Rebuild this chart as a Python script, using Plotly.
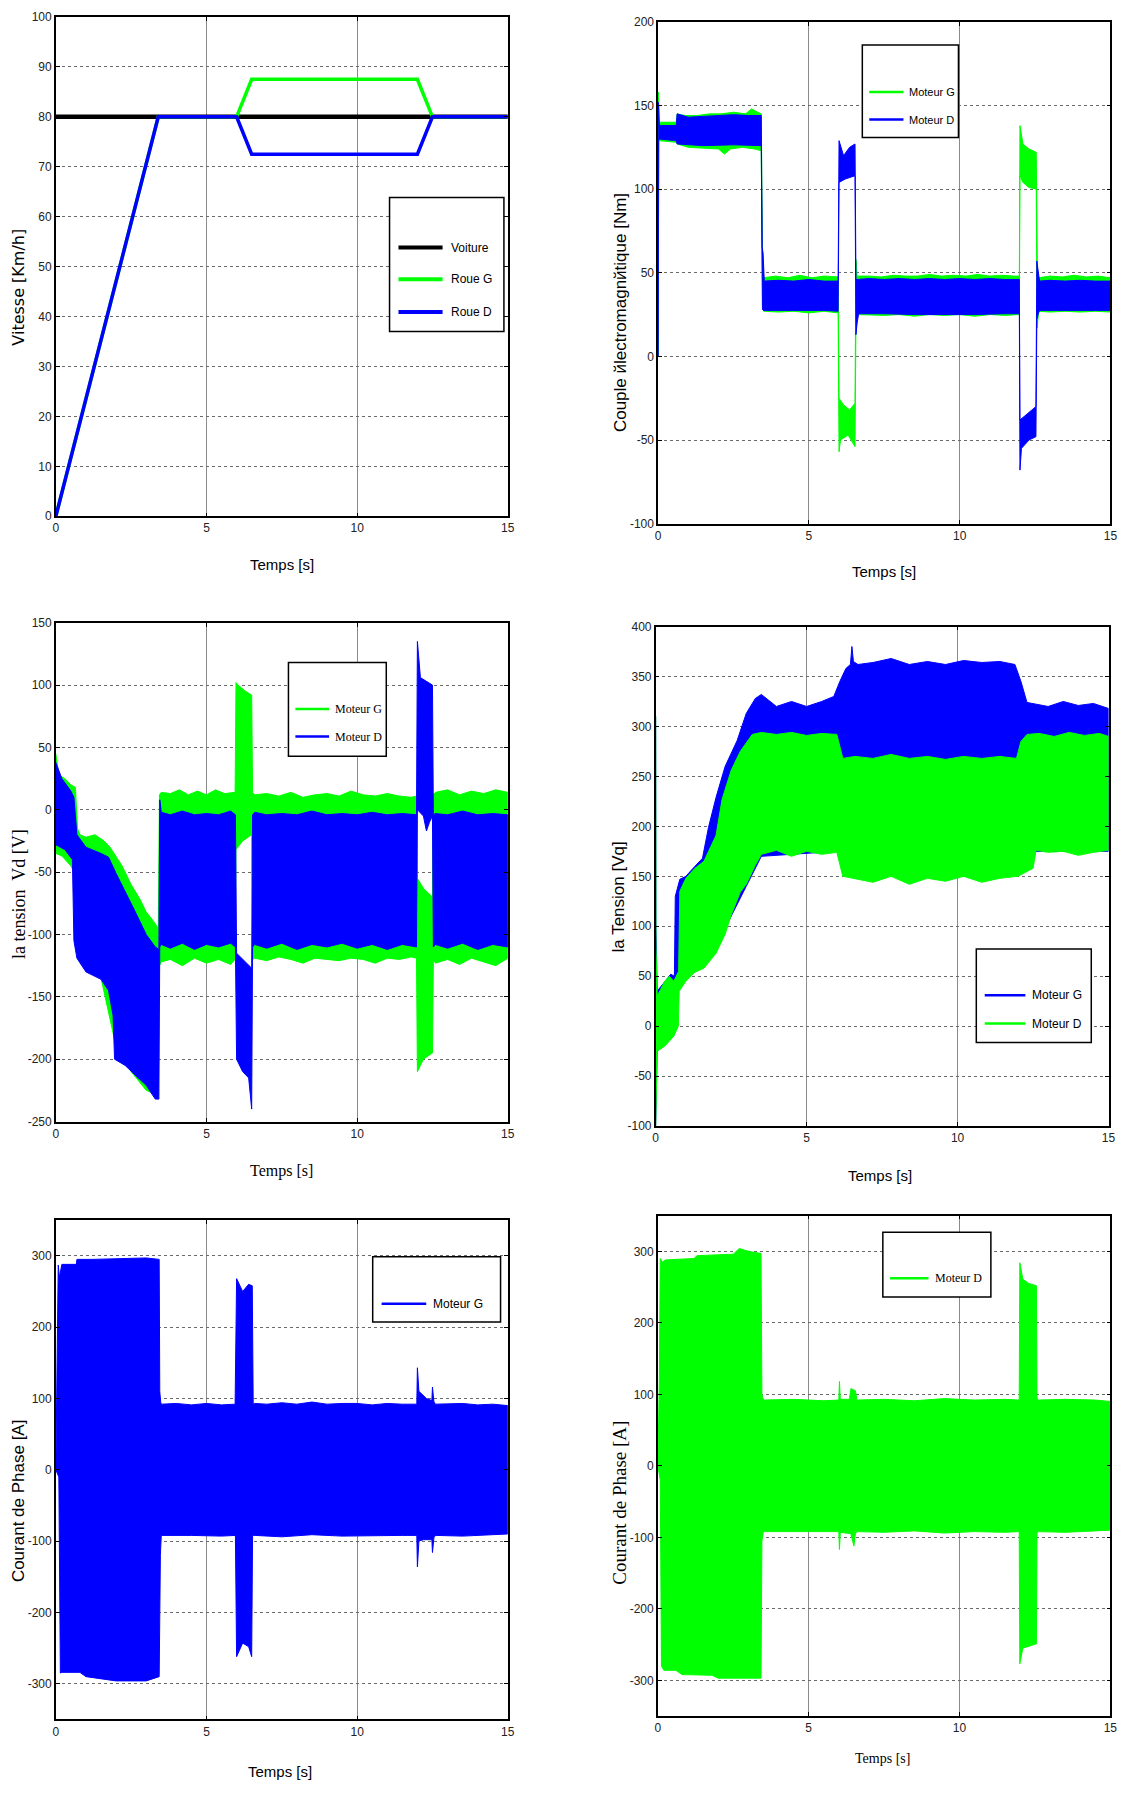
import plotly.graph_objects as go

W, H = 1129, 1793
BLUE = "#0000FF"
GREEN = "#00FF00"
SANS = "Liberation Sans, Arial, sans-serif"
SERIF = "Liberation Serif, Times New Roman, serif"

# ---------------- Data ----------------
# Subplot 1: Vitesse
v_t = [0, 3.4, 6.0, 6.5, 12.0, 12.5, 15]
voiture_t = [0, 15]
voiture_v = [80, 80]
roueG_v = [0, 80, 80, 87.5, 87.5, 80, 80]
roueD_v = [0, 80, 80, 72.5, 72.5, 80, 80]

# Subplot 2: Couple electromagnetique (envelopes)
cG_up_t = [0, 0.01, 0.04, 0.6, 0.63, 0.9, 1.3, 1.7, 2.1, 2.5, 2.9, 3.1, 3.3, 3.42, 3.46, 3.5, 3.9, 4.3, 4.7, 5.1, 5.5, 5.97, 6.0, 6.15, 6.35, 6.53, 6.56, 6.6, 7.0, 7.4, 7.8, 8.2, 8.6, 9.0, 9.4, 9.8, 10.2, 10.6, 11.0, 11.4, 11.8, 11.98, 12.0, 12.1, 12.3, 12.5, 12.54, 12.58, 12.62, 13.0, 13.4, 13.8, 14.2, 14.6, 15]
cG_up_v = [0, 158, 140, 140, 145, 144, 144, 145, 145, 146, 145, 148, 146, 145, 60, 47, 48, 47, 48.5, 47, 48, 47.5, -25, -29, -32, -28, 58, 48, 48, 47.5, 48.5, 48, 48, 49, 48, 48.5, 48, 49, 48, 48.5, 48, 48, 138, 127, 124, 122, 122, 47, 47, 48, 47.5, 48.5, 47.5, 48, 47]
cG_lo_t = [0, 0.02, 0.6, 0.63, 1.0, 1.5, 2.0, 2.2, 2.4, 2.8, 3.2, 3.42, 3.46, 3.5, 4.0, 4.5, 5.0, 5.5, 5.97, 6.0, 6.05, 6.3, 6.53, 6.56, 6.6, 7.0, 7.5, 8.0, 8.5, 9.0, 9.5, 10.0, 10.5, 11.0, 11.5, 11.98, 12.0, 12.1, 12.3, 12.54, 12.57, 12.62, 13.0, 13.5, 14.0, 14.5, 15]
cG_lo_v = [0, 129, 128, 127, 125, 124.5, 124, 121, 124, 125, 124, 123, 30, 27, 26.5, 27, 26, 27, 26, -57, -50, -47, -54, 20, 25, 25, 24.5, 25, 24, 25, 24.5, 25, 24, 25, 24.5, 25, 108, 104, 101, 100, 17, 27, 26.5, 27, 26.5, 27, 26.5]
cD_up_t = [0, 0.01, 0.04, 0.6, 0.63, 1.0, 1.5, 2.0, 2.5, 3.0, 3.42, 3.45, 3.48, 3.52, 4.0, 4.5, 5.0, 5.5, 5.97, 6.0, 6.15, 6.35, 6.53, 6.56, 6.6, 7.0, 7.5, 8.0, 8.5, 9.0, 9.5, 10.0, 10.5, 11.0, 11.5, 11.98, 12.0, 12.2, 12.4, 12.53, 12.56, 12.6, 12.65, 13.0, 13.5, 14.0, 14.5, 15]
cD_up_v = [0, 152, 138, 138, 145, 143, 143.5, 144, 144.5, 144, 144, 65, 62, 45, 45.5, 45, 46, 45, 45, 129, 120, 125, 127, 46, 46, 46.5, 46, 46.5, 46, 46.5, 46, 46.5, 46, 46.5, 46, 46, -38, -35, -32, -30, 57, 50, 45, 45.5, 45, 45.5, 45, 45]
cD_lo_t = [0, 0.02, 0.6, 0.63, 1.5, 2.5, 3.42, 3.46, 3.5, 4.5, 5.5, 5.97, 6.0, 6.2, 6.53, 6.56, 6.6, 6.65, 7.5, 8.5, 9.5, 10.5, 11.5, 11.98, 12.0, 12.05, 12.3, 12.53, 12.56, 12.6, 12.65, 13.5, 14.5, 15]
cD_lo_v = [0, 130, 129, 127, 126, 126.5, 126, 28, 27.5, 27.5, 27.5, 27, 104, 106, 108, 13, 20, 25.5, 25.5, 25, 25, 25, 25.5, 25.5, -68, -55, -50, -48, 22, 25, 27.5, 27.5, 27.5, 27.5]

# Subplot 3: Vd
vdG_up_t = [0, 0.1, 0.3, 0.5, 0.65, 0.72, 0.8, 1.0, 1.3, 1.6, 1.8, 2.0, 2.2, 2.5, 2.8, 3.0, 3.2, 3.4, 3.44, 3.5, 3.8, 4.1, 4.4, 4.7, 5.0, 5.3, 5.6, 5.95, 5.98, 6.05, 6.3, 6.5, 6.53, 6.6, 7.0, 7.4, 7.8, 8.2, 8.6, 9.0, 9.4, 9.8, 10.2, 10.6, 11.0, 11.4, 11.8, 11.97, 12.0, 12.2, 12.5, 12.53, 12.6, 13.0, 13.4, 13.8, 14.2, 14.6, 15]
vdG_up_v = [45, 28, 25, 20, 18, -15, -20, -22, -20, -25, -30, -38, -45, -60, -72, -82, -88, -95, 12, 14, 13, 16, 12, 15, 12, 16, 13, 14, 102, 100, 95, 92, 14, 12, 13, 11, 14, 10, 12, 13, 11, 15, 12, 11, 13, 11, 10, 11, -55, -63, -70, 12, 14, 16, 12, 15, 13, 16, 14]
vdG_lo_t = [0, 0.2, 0.5, 0.6, 1.0, 1.5, 2.0, 2.5, 3.0, 3.3, 3.44, 3.5, 3.8, 4.2, 4.6, 5.0, 5.4, 5.8, 5.95, 5.98, 6.2, 6.5, 6.53, 6.6, 7.0, 7.4, 7.8, 8.2, 8.6, 9.0, 9.4, 9.8, 10.2, 10.6, 11.0, 11.4, 11.8, 11.97, 12.0, 12.2, 12.5, 12.53, 12.6, 13.0, 13.4, 13.8, 14.2, 14.6, 15]
vdG_lo_v = [-35, -37, -45, -50, -120, -135, -190, -210, -225, -228, -125, -122, -120, -125, -119, -123, -120, -124, -120, -32, -25, -20, -120, -119, -121, -118, -120, -123, -119, -120, -121, -119, -120, -123, -119, -120, -118, -119, -210, -200, -195, -120, -123, -120, -124, -119, -122, -125, -119]
vdD_up_t = [0, 0.2, 0.5, 0.6, 0.7, 1.0, 1.5, 1.75, 2.0, 2.3, 2.6, 3.0, 3.3, 3.42, 3.45, 3.5, 3.8, 4.2, 4.6, 5.0, 5.4, 5.8, 5.96, 6.0, 6.2, 6.5, 6.53, 6.6, 7.0, 7.5, 8.0, 8.5, 9.0, 9.5, 10.0, 10.5, 11.0, 11.5, 11.97, 12.0, 12.1, 12.3, 12.5, 12.53, 12.6, 13.0, 13.5, 14.0, 14.5, 15]
vdD_up_v = [38, 25, 15, 10, -20, -30, -35, -38, -51, -65, -80, -100, -110, -112, 8, -2, -4, -1, -4, -3, -4, -1, -4, -115, -120, -127, -4, -2, -4, -3, -4, -1, -4, -3, -4, -2, -4, -3, -4, 135, 106, 103, 100, -4, -3, -4, -1, -4, -3, -4]
vdD_lo_t = [0, 0.3, 0.55, 0.6, 0.7, 1.0, 1.5, 1.75, 1.9, 1.95, 2.3, 2.6, 3.0, 3.3, 3.42, 3.45, 3.5, 3.8, 4.2, 4.6, 5.0, 5.4, 5.8, 5.96, 6.0, 6.2, 6.4, 6.5, 6.53, 6.6, 7.0, 7.5, 8.0, 8.5, 9.0, 9.5, 10.0, 10.5, 11.0, 11.5, 11.97, 12.0, 12.2, 12.3, 12.4, 12.5, 12.53, 12.6, 13.0, 13.5, 14.0, 14.5, 15]
vdD_lo_v = [-28, -32, -40, -105, -119, -130, -136, -145, -165, -200, -205, -212, -221, -232, -232, -110, -108, -111, -107, -112, -108, -110, -107, -110, -200, -210, -215, -240, -110, -108, -111, -107, -112, -108, -110, -107, -111, -108, -112, -108, -110, 0, -5, -17, -10, -5, -110, -108, -111, -107, -112, -108, -110]

# Subplot 4: Vq
vqG_up_t = [0, 0.01, 0.05, 0.3, 0.5, 0.62, 0.65, 0.8, 1.0, 1.3, 1.55, 1.75, 2.0, 2.3, 2.7, 3.0, 3.3, 3.5, 4.0, 4.5, 5.0, 5.5, 5.9, 6.1, 6.3, 6.45, 6.5, 6.55, 6.7, 7.2, 7.8, 8.4, 9.0, 9.6, 10.2, 10.8, 11.4, 11.9, 12.1, 12.3, 12.6, 13.0, 13.5, 14.0, 14.5, 15]
vqG_up_v = [310, 100, 35, 45, 52, 50, 130, 147, 150, 160, 168, 199, 229, 260, 286, 313, 328, 332, 320, 325, 320, 325, 330, 345, 358, 362, 380, 365, 362, 364, 368, 362, 365, 362, 366, 364, 365, 362, 345, 324, 322, 320, 325, 321, 323, 318]
vqG_lo_t = [0, 0.05, 0.6, 0.65, 1.0, 1.6, 2.0, 3.0, 3.5, 6.0, 6.2, 12.0, 12.3, 15]
vqG_lo_v = [-100, -25, -10, 40, 50, 60, 80, 140, 170, 175, 255, 255, 175, 175]
vqD_up_t = [0, 0.01, 0.05, 0.3, 0.45, 0.6, 0.76, 0.8, 1.0, 1.3, 1.6, 2.0, 2.2, 2.5, 2.8, 3.2, 3.5, 4.0, 4.5, 5.0, 5.5, 6.0, 6.2, 6.6, 7.2, 7.8, 8.4, 9.0, 9.6, 10.2, 10.8, 11.4, 11.95, 12.1, 12.3, 12.7, 13.2, 13.7, 14.2, 14.7, 15]
vqD_up_v = [310, 80, 30, 45, 50, 45, 55, 135, 148, 158, 165, 191, 227, 256, 275, 292, 294, 292, 294, 291, 293, 292, 268, 270, 268, 272, 268, 270, 267, 270, 268, 270, 268, 285, 292, 293, 290, 294, 291, 293, 290]
vqD_lo_t = [0, 0.05, 0.3, 0.6, 0.75, 0.78, 1.0, 1.3, 1.6, 2.0, 2.3, 2.5, 2.8, 3.0, 3.3, 3.5, 4.0, 4.5, 5.0, 5.5, 6.0, 6.2, 6.6, 7.2, 7.8, 8.4, 9.0, 9.6, 10.2, 10.8, 11.4, 12.0, 12.5, 12.6, 13.0, 13.5, 14.0, 14.5, 15]
vqD_lo_v = [-100, -25, -20, -10, 0, 35, 45, 54, 58, 73, 92, 111, 134, 142, 161, 172, 176, 170, 175, 172, 174, 150, 148, 144, 150, 142, 148, 145, 150, 144, 148, 150, 158, 176, 174, 175, 171, 174, 176]

# Subplot 5: Courant de phase, Moteur G
iG_up_t = [0, 0.05, 0.08, 0.12, 0.2, 0.68, 0.7, 1.2, 1.8, 2.4, 3.0, 3.43, 3.45, 3.48, 3.5, 4.0, 4.5, 5.0, 5.5, 5.95, 5.97, 6.0, 6.2, 6.4, 6.52, 6.55, 6.6, 7.0, 7.5, 8.0, 8.5, 9.0, 9.5, 10.0, 10.5, 11.0, 11.5, 11.98, 12.0, 12.05, 12.3, 12.48, 12.5, 12.55, 12.6, 13.0, 13.5, 14.0, 14.5, 15]
iG_up_v = [0, 180, 287, 270, 288, 288, 295, 295, 296, 296, 297, 295, 110, 95, 92, 93, 91, 93, 91, 92, 200, 268, 250, 260, 258, 92, 93, 92, 94, 92, 95, 92, 93, 93, 91, 93, 92, 92, 143, 110, 100, 97, 116, 95, 92, 92, 93, 91, 92, 90]
iG_lo_t = [0, 0.1, 0.15, 0.2, 0.8, 1.0, 2.0, 3.0, 3.43, 3.47, 3.5, 4.5, 5.5, 5.96, 6.0, 6.2, 6.4, 6.5, 6.53, 6.6, 7.5, 8.5, 9.5, 10.5, 11.5, 11.98, 12.0, 12.05, 12.2, 12.48, 12.5, 12.55, 12.6, 13.5, 14.5, 15]
iG_lo_v = [0, -10, -285, -284, -284, -290, -296, -296, -290, -120, -92, -92, -93, -92, -262, -243, -248, -262, -92, -92, -94, -91, -93, -93, -92, -92, -136, -100, -98, -98, -116, -95, -92, -93, -91, -90]

# Subplot 6: Courant de phase, Moteur D
iD_up_t = [0, 0.05, 0.08, 0.15, 0.25, 1.2, 1.3, 2.5, 2.7, 3.0, 3.42, 3.45, 3.5, 4.5, 5.5, 6.0, 6.02, 6.05, 6.35, 6.4, 6.55, 6.6, 7.5, 8.5, 9.5, 10.5, 11.5, 11.98, 12.0, 12.1, 12.3, 12.55, 12.57, 12.6, 13.5, 14.5, 15]
iD_up_v = [0, 120, 290, 285, 288, 290, 294, 296, 304, 300, 297, 100, 92, 93, 91, 92, 118, 93, 93, 108, 105, 92, 93, 91, 94, 92, 93, 92, 284, 261, 255, 252, 95, 92, 93, 92, 90]
iD_lo_t = [0, 0.08, 0.12, 0.2, 0.6, 0.8, 1.8, 2.0, 3.42, 3.45, 3.5, 4.5, 6.0, 6.02, 6.05, 6.4, 6.5, 6.55, 6.6, 7.5, 8.5, 9.5, 10.5, 11.5, 11.98, 12.0, 12.1, 12.3, 12.55, 12.57, 12.6, 13.5, 14.5, 15]
iD_lo_v = [0, -20, -280, -286, -286, -292, -293, -297, -297, -105, -92, -92, -92, -117, -93, -95, -112, -95, -92, -93, -91, -94, -92, -93, -92, -277, -255, -252, -249, -95, -92, -93, -91, -90]

x_ticks = [0, 5, 10, 15]


def px(x):
    return x / W


def py(y):
    return 1 - y / H


def band(t_up, v_up, t_lo, v_lo):
    return list(t_up) + list(t_lo)[::-1], list(v_up) + list(v_lo)[::-1]


fig = go.Figure()


def add_band(n, t_up, v_up, t_lo, v_lo, color):
    x, y = band(t_up, v_up, t_lo, v_lo)
    fig.add_trace(go.Scatter(x=x, y=y, mode="lines", fill="toself", fillcolor=color,
                             line=dict(color=color, width=1), showlegend=False,
                             xaxis="x" if n == 1 else f"x{n}", yaxis="y" if n == 1 else f"y{n}",
                             hoverinfo="skip"))


# Subplot 1 lines
fig.add_trace(go.Scatter(x=voiture_t, y=voiture_v, mode="lines", line=dict(color="black", width=4.5),
                         showlegend=False, xaxis="x", yaxis="y"))
fig.add_trace(go.Scatter(x=v_t, y=roueG_v, mode="lines", line=dict(color=GREEN, width=3.5),
                         showlegend=False, xaxis="x", yaxis="y"))
fig.add_trace(go.Scatter(x=v_t, y=roueD_v, mode="lines", line=dict(color=BLUE, width=3.5),
                         showlegend=False, xaxis="x", yaxis="y"))

add_band(2, cG_up_t, cG_up_v, cG_lo_t, cG_lo_v, GREEN)
add_band(2, cD_up_t, cD_up_v, cD_lo_t, cD_lo_v, BLUE)
add_band(3, vdG_up_t, vdG_up_v, vdG_lo_t, vdG_lo_v, GREEN)
add_band(3, vdD_up_t, vdD_up_v, vdD_lo_t, vdD_lo_v, BLUE)
add_band(4, vqG_up_t, vqG_up_v, vqG_lo_t, vqG_lo_v, BLUE)
add_band(4, vqD_up_t, vqD_up_v, vqD_lo_t, vqD_lo_v, GREEN)
add_band(5, iG_up_t, iG_up_v, iG_lo_t, iG_lo_v, BLUE)
add_band(6, iD_up_t, iD_up_v, iD_lo_t, iD_lo_v, GREEN)

# ---------------- Axes ----------------
boxes = {
    1: (53.3, 509.3, 10, 513.3),
    2: (661, 1117.3, 15, 520.7),
    3: (53.3, 509.3, 620.6, 1123.3),
    4: (658.5, 1115.4, 624.4, 1127.9),
    5: (53.3, 509.3, 1222.7, 1725.9),
    6: (660.7, 1117.2, 1218.1, 1722.5),
}
yranges = {1: [0, 100], 2: [-100, 200], 3: [-250, 150], 4: [-100, 400], 5: [-350, 350], 6: [-350, 350]}
yticks = {
    1: list(range(0, 101, 10)),
    2: list(range(-100, 201, 50)),
    3: list(range(-250, 151, 50)),
    4: list(range(-100, 401, 50)),
    5: list(range(-300, 301, 100)),
    6: list(range(-300, 301, 100)),
}

tickfont = dict(family=SANS, size=12, color="#222")
layout = dict(width=W, height=H, margin=dict(l=0, r=0, t=0, b=0),
              paper_bgcolor="white", plot_bgcolor="white", showlegend=False)
for n, (l, r, t, b) in boxes.items():
    xk = "xaxis" if n == 1 else f"xaxis{n}"
    yk = "yaxis" if n == 1 else f"yaxis{n}"
    layout[xk] = dict(domain=[px(l), px(r)], anchor="y" if n == 1 else f"y{n}", range=[0, 15],
                      tickvals=x_ticks, ticktext=[str(v) for v in x_ticks],
                      showline=True, linecolor="black", linewidth=1.5,
                      mirror="allticks", ticks="inside", ticklen=4, tickcolor="black",
                      showgrid=True, gridcolor="#8a8a8a", gridwidth=1, zeroline=False,
                      tickfont=tickfont)
    layout[yk] = dict(domain=[py(b), py(t)], anchor="x" if n == 1 else f"x{n}", range=yranges[n],
                      tickvals=yticks[n], ticktext=[str(v) for v in yticks[n]],
                      showline=True, linecolor="black", linewidth=1.5,
                      mirror="allticks", ticks="inside", ticklen=4, tickcolor="black",
                      showgrid=True, gridcolor="#6a6a6a", gridwidth=1, griddash="dot",
                      zeroline=False, tickfont=tickfont)

annotations = []
shapes = []


def title(text, x, y, size, family, angle=0):
    annotations.append(dict(text=text, x=px(x), y=py(y), xref="paper", yref="paper",
                            showarrow=False, xanchor="center", yanchor="middle", textangle=angle,
                            font=dict(family=family, size=size, color="black")))


title("Temps [s]", 281, 562, 15, SANS)
title("Vitesse [Km/h]", 16, 282, 16, "DejaVu Sans", -90)
title("Temps [s]", 889, 569, 15, SANS)
title("Couple йlectromagnйtique [Nm]", 623, 308, 17, SANS, -90)
title("Temps [s]", 281, 1173, 16, SERIF)
title("la tension  Vd [V]", 16, 894, 18, SERIF, -90)
title("Temps [s]", 885, 1178, 15, SANS)
title("la Tension [Vq]", 621, 897, 17, SANS, -90)
title("Temps [s]", 279, 1778, 15, SANS)
title("Courant de Phase [A]", 15, 1505, 17, SANS, -90)
title("Temps [s]", 887, 1765, 14, SERIF)
title("Courant de Phase [A]", 622, 1507, 19, SERIF, -90)


def legend(box, entries, x0, x1, xt, size, family, lw):
    bl, br, bt, bb = box
    shapes.append(dict(type="rect", xref="paper", yref="paper", x0=px(bl), x1=px(br),
                       y0=py(bb), y1=py(bt), line=dict(color="black", width=1.5),
                       fillcolor="white", layer="above"))
    for label, color, yy in entries:
        shapes.append(dict(type="line", xref="paper", yref="paper", x0=px(x0), x1=px(x1),
                           y0=py(yy), y1=py(yy), line=dict(color=color, width=lw), layer="above"))
        annotations.append(dict(text=label, x=px(xt), y=py(yy), xref="paper", yref="paper",
                                showarrow=False, xanchor="left", yanchor="middle",
                                font=dict(family=family, size=size, color="black")))


legend((390, 505.4, 192, 327), [("Voiture", "black", 242.5), ("Roue G", GREEN, 274.4),
                                ("Roue D", BLUE, 307.5)], 399, 443.5, 450, 12, SANS, 4)
legend((867, 964, 38.3, 131.6), [("Moteur G", GREEN, 85.7), ("Moteur D", BLUE, 113.5)],
       874, 908.5, 912, 11, SANS, 2.5)
legend((288, 386.7, 660.7, 755.1), [("Moteur G", GREEN, 707.4), ("Moteur D", BLUE, 735.3)],
       295, 329, 333, 12, SERIF, 2.5)
legend((982, 1098, 949.3, 1043.7), [("Moteur G", BLUE, 996), ("Moteur D", GREEN, 1024.6)],
       990.5, 1031.5, 1036, 12, SANS, 2.5)
legend((373, 502, 1259.7, 1325.4), [("Moteur G", BLUE, 1306.9)], 382, 427, 432, 12, SANS, 2.5)
legend((887.7, 996.7, 1234.8, 1300.1), [("Moteur D", GREEN, 1281.2)], 895, 933.7, 938, 12,
       SERIF, 2.5)

layout["annotations"] = annotations
layout["shapes"] = shapes
fig.update_layout(**layout)
fig.write_html("out.html", config={"displayModeBar": False},
               post_script="document.body.style.margin='0';")
